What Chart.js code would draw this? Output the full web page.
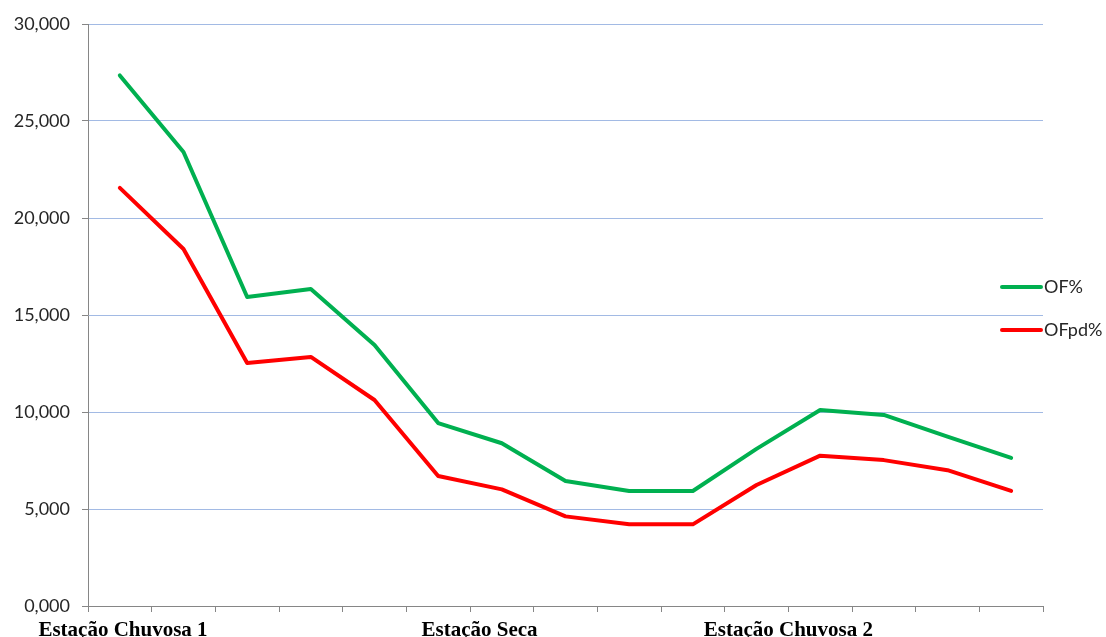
<!DOCTYPE html>
<html>
<head>
<meta charset="utf-8">
<script src="https://cdn.jsdelivr.net/npm/chart.js@4.4.1/dist/chart.umd.min.js"></script>
<style>
    html, body { margin: 0; padding: 0; background: #ffffff; }
    #wrap { width: 1106px; height: 637px; position: relative; }
</style>
</head>
<body>
<div id="wrap"><canvas id="chart"></canvas></div>
<script>
// Sample order along the x axis (15 collections)
const samples = ['1', '2', '3', '4', '5', '6', '7', '8', '9', '10', '11', '12', '13', '14', '15'];

// Series values
const ofValues   = [27.35, 23.40, 15.93, 16.34, 13.45, 9.43, 8.39, 6.44, 5.93, 5.93, 8.10, 10.10, 9.85, 8.73, 7.63];
const ofpdValues = [21.55, 18.40, 12.53, 12.84, 10.62, 6.70, 6.01, 4.62, 4.21, 4.21, 6.24, 7.75, 7.52, 7.00, 5.93];

const seriesNames = ['OF%', 'OFpd%'];

// Season labels and where they sit on the sample axis
const seasonLabels = ['Estação Chuvosa 1', 'Estação Seca', 'Estação Chuvosa 2'];
const seasonAt = [0.05, 5.65, 10.5];

// Y axis range
const yMin = 0;
const yMax = 30;
const yStep = 5;

const COLORS = {
    green: '#00b050',
    red: '#ff0000',
    grid: '#a2bae4',
    axis: '#868686',
    text: '#262626'
};

/**
 * Format tick as pt-BR with three decimals
 */
function fmt(v) {
    return v.toFixed(3).replace('.', ',');
}

// Legend drawn at the right, overlapping the plot edge like the original
const sideLegend = {
    id: 'sideLegend',
    afterDraw(chart) {
        const ctx = chart.ctx;
        const rows = [287, 330];
        ctx.save();
        chart.data.datasets.forEach((ds, i) => {
            const y = rows[i];
            ctx.strokeStyle = ds.borderColor;
            ctx.lineWidth = 4;
            ctx.lineCap = 'round';
            ctx.beginPath();
            ctx.moveTo(1002, y);
            ctx.lineTo(1041, y);
            ctx.stroke();
            ctx.fillStyle = COLORS.text;
            ctx.font = '18px Lato';
            ctx.textBaseline = 'middle';
            ctx.textAlign = 'left';
            ctx.fillText(ds.label, 1044, y);
        });
        ctx.restore();
    }
};

new Chart(document.getElementById('chart'), {
    type: 'line',
    data: {
        labels: samples,
        datasets: [
            {
                label: seriesNames[0],
                data: ofValues,
                borderColor: COLORS.green,
                backgroundColor: COLORS.green,
                borderWidth: 4,
                pointRadius: 0,
                tension: 0,
                borderCapStyle: 'round',
                borderJoinStyle: 'round'
            },
            {
                label: seriesNames[1],
                data: ofpdValues,
                borderColor: COLORS.red,
                backgroundColor: COLORS.red,
                borderWidth: 4,
                pointRadius: 0,
                tension: 0,
                borderCapStyle: 'round',
                borderJoinStyle: 'round'
            }
        ]
    },
    options: {
        responsive: true,
        maintainAspectRatio: false,
        animation: false,
        layout: {
            padding: { top: 24, right: 63, bottom: 0, left: 0 }
        },
        plugins: {
            legend: { display: false },
            tooltip: { enabled: false }
        },
        scales: {
            x: {
                type: 'category',
                offset: true,
                weight: 0,
                grid: {
                    offset: true,
                    drawOnChartArea: false,
                    color: COLORS.axis,
                    tickLength: 6
                },
                border: { color: COLORS.axis, width: 1 },
                ticks: { display: false },
                afterFit(scale) { scale.height = 6; }
            },
            season: {
                type: 'linear',
                position: 'bottom',
                weight: 1,
                min: -0.5,
                max: samples.length - 0.5,
                grid: { display: false },
                border: { display: false },
                afterBuildTicks(scale) {
                    scale.ticks = seasonAt.map(v => ({ value: v }));
                },
                ticks: {
                    autoSkip: false,
                    maxRotation: 0,
                    padding: 0,
                    color: '#000000',
                    font: { family: 'Liberation Serif', size: 21, weight: 'bold', lineHeight: 1 },
                    callback: (value, index) => seasonLabels[index]
                },
                afterFit(scale) { scale.height = 25; }
            },
            y: {
                min: yMin,
                max: yMax,
                grid: {
                    color: ctx => ctx.tick && ctx.tick.value === 0 ? 'rgba(0,0,0,0)' : COLORS.grid,
                    tickColor: COLORS.axis,
                    tickLength: 6,
                    lineWidth: 1
                },
                border: { color: COLORS.axis, width: 1 },
                ticks: {
                    stepSize: yStep,
                    padding: 12,
                    color: COLORS.text,
                    font: { family: 'Lato', size: 18 },
                    callback: v => fmt(v)
                },
                afterFit(scale) { scale.width = 88; }
            }
        }
    },
    plugins: [sideLegend]
});
</script>
</body>
</html>
